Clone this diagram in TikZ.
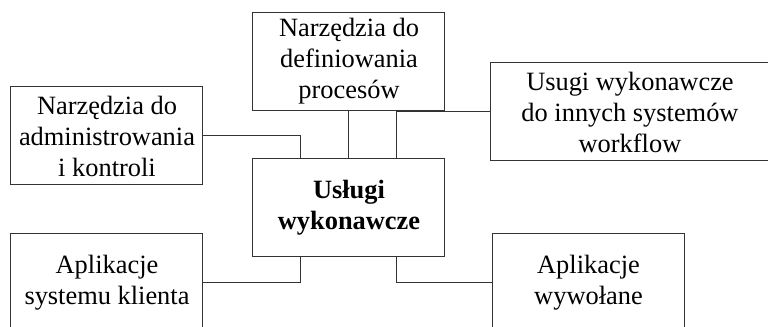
\documentclass[tikz,border=0pt]{standalone}
\usepackage{fontspec}
\setmainfont{Liberation Serif}
\usepackage{tikz}
\tikzstyle{module} = [rectangle, minimum width=96pt, minimum height=49pt, inner sep=0pt, text centered, align=center, draw=black!80, line width=0.5pt, font=\fontsize{13.2}{15.5}\selectfont]
\tikzstyle{wide} = [module, minimum width=139pt]
\tikzstyle{core} = [module, font=\fontsize{13.2}{15.5}\selectfont\bfseries]
\tikzstyle{link} = [draw=black!80, line width=0.5pt]

\begin{document}
\begin{tikzpicture}[node distance=73pt]

        \clip (-174.5pt,-59.5pt) rectangle (209.5pt,104pt);

        \node (engine) [core] {Usługi\\wykonawcze};
        \node (define) [module, above of=engine, yshift=0.25pt] {Narzędzia do\\definiowania\\procesów};
        \node (admin) [module, left of=engine, xshift=-48pt, yshift=36pt] {Narzędzia do\\administrowania\\i kontroli};
        \node (other) [wide, right of=engine, xshift=67.5pt, yshift=48pt] {Usugi wykonawcze\\do innych systemów\\workflow};
        \node (client) [module, left of=engine, xshift=-48pt, yshift=-37.5pt] {Aplikacje\\systemu klienta};
        \node (invoked) [module, right of=engine, xshift=46.75pt, yshift=-37.5pt] {Aplikacje\\wywołane};

        % Connections
        \draw [link] (define) -- (engine);
        \draw [link] (admin.east) -| ([xshift=-24pt]engine.north);
        \draw [link] (other.west) -| ([xshift=24pt]engine.north);
        \draw [link] ([xshift=-24pt]engine.south) |- (client.east);
        \draw [link] ([xshift=24pt]engine.south) |- (invoked.west);

\end{tikzpicture}
\end{document}
